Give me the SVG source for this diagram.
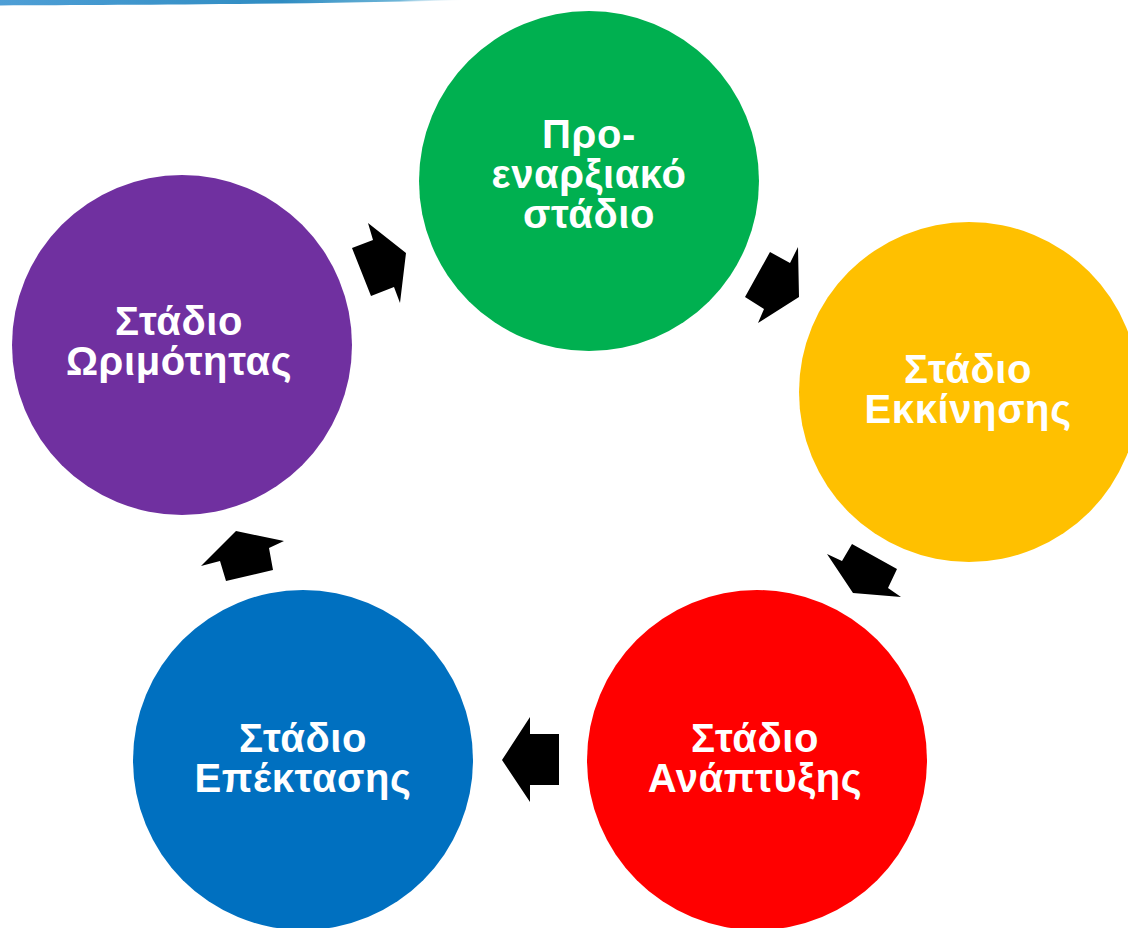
<svg xmlns="http://www.w3.org/2000/svg" width="1128" height="928" viewBox="0 0 1128 928">
  <defs>
    <linearGradient id="topline" x1="0" y1="0" x2="1" y2="0">
      <stop offset="0" stop-color="#4f9fd6"/>
      <stop offset="0.6" stop-color="#2f8cc2"/>
      <stop offset="0.85" stop-color="#6fb6d8"/>
      <stop offset="1" stop-color="#ffffff" stop-opacity="0"/>
    </linearGradient>
    <style>
      .lbl { font-family: "Liberation Sans", Arial, sans-serif; font-weight: bold; font-size: 40px; letter-spacing: 0.6px; fill: #ffffff; text-anchor: middle; }
      .arrow { fill: #000000; }
    </style>
  </defs>
  <rect width="1128" height="928" fill="#ffffff"/>
  <path d="M0,0 L0,5.5 C120,5 300,4.5 470,0 Z" fill="url(#topline)"/>

  <g id="node-preinitial">
    <circle cx="589" cy="181" r="170" fill="#00b050"/>
    <text class="lbl" x="589" y="148">Προ-</text>
    <text class="lbl" x="589" y="188">εναρξιακό</text>
    <text class="lbl" x="589" y="228">στάδιο</text>
  </g>
  <g id="node-startup">
    <circle cx="969" cy="392" r="170" fill="#ffc000"/>
    <text class="lbl" x="968" y="383">Στάδιο</text>
    <text class="lbl" x="968" y="423">Εκκίνησης</text>
  </g>
  <g id="node-development">
    <circle cx="757" cy="760" r="170" fill="#ff0000"/>
    <text class="lbl" x="755" y="752">Στάδιο</text>
    <text class="lbl" x="755" y="792">Ανάπτυξης</text>
  </g>
  <g id="node-expansion">
    <circle cx="303" cy="760" r="170" fill="#0070c0"/>
    <text class="lbl" x="303" y="752">Στάδιο</text>
    <text class="lbl" x="303" y="792">Επέκτασης</text>
  </g>
  <g id="node-maturity">
    <circle cx="182" cy="345" r="170" fill="#7030a0"/>
    <text class="lbl" x="179" y="335">Στάδιο</text>
    <text class="lbl" x="179" y="375">Ωριμότητας</text>
  </g>

  <g id="connectors">
    <polygon class="arrow" points="368,223 406,253 400,303 394,287 371,296 352,248 373,240"/>
    <polygon class="arrow" points="770,252 790,263 798,247 799,297 758,323 764,309 745,297"/>
    <polygon class="arrow" points="852,544 897,569 888,588 901,597 853,593 827,554 842,561"/>
    <polygon class="arrow" points="530,717 530,734 559,734 559,785 530,785 530,802 502,760"/>
    <polygon class="arrow" points="236,531 284,541 269,548 273,570 226,581 220,561 201,566"/>
  </g>
</svg>
